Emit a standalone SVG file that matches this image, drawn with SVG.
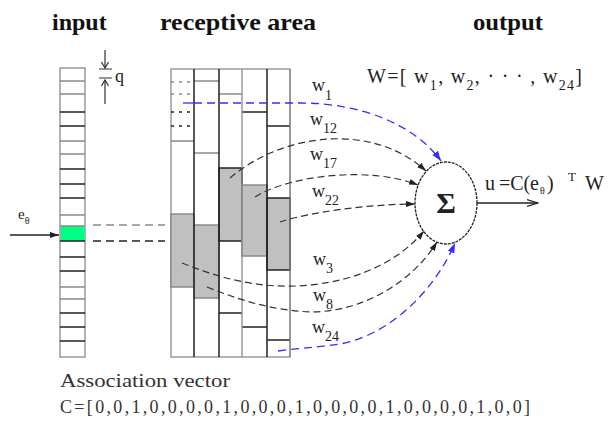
<svg xmlns="http://www.w3.org/2000/svg" width="608" height="426" viewBox="0 0 608 426" font-family="'Liberation Serif', 'DejaVu Serif', serif">
<style>
text{font-family:"Liberation Serif","DejaVu Serif",serif;fill:#222}
.title{font-size:24px;font-weight:bold;fill:#111}
.lab{font-size:18px}
.sub{font-size:14px}
.g{stroke:#8a8a8a;stroke-width:1.3;fill:none}
.k{stroke:#222;stroke-width:1.5;fill:none}
.cellw{fill:#fff;stroke:#8a8a8a;stroke-width:1.3}
.shade{fill:#c0c0c0;stroke:#222;stroke-width:1.5}
.dot{stroke-dasharray:3,5;stroke-width:1.5}
.conn{fill:none;stroke:#333;stroke-width:1.2;stroke-dasharray:7,4}
.blue{fill:none;stroke:#3a2cf0;stroke-width:1.3;stroke-dasharray:8,5}
</style>
<defs>
<marker id="ak" markerUnits="userSpaceOnUse" markerWidth="10" markerHeight="8" refX="9" refY="4" orient="auto"><path d="M0,1 L9,4 L0,7 z" fill="#222"/></marker>
<marker id="ab" markerUnits="userSpaceOnUse" markerWidth="11" markerHeight="8" refX="10" refY="4" orient="auto"><path d="M0,0.5 L10,4 L0,7.5 z" fill="#3a2cf0"/></marker>
<marker id="ao" markerUnits="userSpaceOnUse" markerWidth="12" markerHeight="10" refX="11" refY="5" orient="auto"><path d="M0,1.5 L11,5 L0,8.5" fill="none" stroke="#222" stroke-width="1.3"/></marker>
</defs>

<!-- titles -->
<text class="title" x="52" y="30">input</text>
<text class="title" x="160" y="30" textLength="156" lengthAdjust="spacingAndGlyphs">receptive area</text>
<text class="title" x="473" y="30" textLength="70" lengthAdjust="spacingAndGlyphs">output</text>

<!-- input column -->
<g id="input">
<rect class="cellw" x="60" y="68" width="25" height="289"/>
<rect x="60.5" y="226" width="24" height="15" fill="#00ff80"/>
<path class="g" d="M60,81H85M60,94H85M60,141H85M60,154H85M60,215H85M60,226H85M60,287H85M60,299H85"/>
<path class="k" d="M60,112H85M60,126H85M60,169H85M60,184H85M60,198H85M60,241H85M60,257H85M60,271H85M60,313H85M60,327H85M60,341H85"/>
</g>

<!-- q marker -->
<g id="q">
<path d="M105,50V68M99,69H112M99,78H112M105,80V104" stroke="#333" stroke-width="1.2" fill="none"/>
<path d="M101.5,62L105,68L108.5,62M101.5,86L105,80L108.5,86" stroke="#333" stroke-width="1.2" fill="none"/>
<text class="lab" x="115" y="82">q</text>
</g>

<!-- e_theta input arrow -->
<g id="etheta">
<text x="18" y="219" style="font-size:15px">e<tspan dy="5" style="font-size:10px">θ</tspan></text>
<path d="M10,235H59" stroke="#222" stroke-width="1.5" fill="none" marker-end="url(#ak)"/>
</g>

<!-- input to receptive dashed -->
<path d="M93,225H165" stroke="#8a8a8a" stroke-width="1.5" stroke-dasharray="8,5" fill="none"/>
<path d="M93,241H165" stroke="#222" stroke-width="1.5" stroke-dasharray="8,5" fill="none"/>

<!-- receptive area -->
<g id="receptive">
<rect class="cellw" x="171" y="69" width="119" height="288"/>
<rect class="shade" x="171" y="214" width="23" height="73" style="stroke:#8a8a8a"/>
<rect class="shade" x="194" y="225" width="25" height="73" style="stroke:#8a8a8a"/>
<rect class="shade" x="219" y="168" width="23" height="73"/>
<rect class="shade" x="242" y="185" width="25" height="71" style="stroke:#8a8a8a"/>
<rect class="shade" x="267" y="198" width="23" height="72"/>
<path class="g dot" d="M171,82H194M171,94H194"/>
<path class="k dot" d="M171,112H194M171,126H194"/>
<path class="g" d="M171,141H194M194,81H219M194,153H219M219,94H242"/>
<path class="k" d="M219,313H242M242,112H267M242,327H267M267,126H290M267,340H290"/>
<path class="k" d="M194,69V357M219,69V357M267,69V357"/>
<path class="g" d="M242,69V357M290,69V357"/>
</g>

<!-- connectors -->
<g id="connectors">
<path class="blue" d="M183,103H194" style="stroke-dasharray:none"/>
<path class="blue" d="M194,103H300C362,103 415,125 441,161" marker-end="url(#ab)"/>
<path class="conn" d="M230,178C280,135 370,120 426,171" marker-end="url(#ak)"/>
<path class="conn" d="M255,197C290,175 370,166 418,185" marker-end="url(#ak)"/>
<path class="conn" d="M280,222C310,212 370,204 415,204" marker-end="url(#ak)"/>
<path class="conn" d="M182,263C220,278 260,290 310,285C360,280 400,260 424,231" marker-end="url(#ak)"/>
<path class="conn" d="M207,287C240,300 270,310 310,312C360,312 410,285 437,242" marker-end="url(#ak)"/>
<path class="blue" d="M278,351C300,348 320,347 340,344C390,335 435,290 455,243" marker-end="url(#ab)"/>
<path d="M477,203H538" stroke="#222" stroke-width="1.3" fill="none" marker-end="url(#ao)"/>
</g>

<!-- weight labels -->
<g id="wlabels">
<text class="lab" x="312" y="91">w<tspan class="sub" dy="9">1</tspan></text>
<text class="lab" x="310" y="125">w<tspan class="sub" dy="8">12</tspan></text>
<text class="lab" x="310" y="160">w<tspan class="sub" dy="8">17</tspan></text>
<text class="lab" x="312" y="197">w<tspan class="sub" dy="8">22</tspan></text>
<text class="lab" x="313" y="265">w<tspan class="sub" dy="8">3</tspan></text>
<text class="lab" x="313" y="301">w<tspan class="sub" dy="8">8</tspan></text>
<text class="lab" x="312" y="333">w<tspan class="sub" dy="8">24</tspan></text>
</g>

<!-- sum node -->
<g id="sum">
<ellipse cx="446" cy="203" rx="31" ry="41" fill="#fff" stroke="#222" stroke-width="1.3" stroke-dasharray="3,1"/>
<text x="446" y="213" text-anchor="middle" style="font-size:30px;font-weight:bold">Σ</text>
</g>

<!-- W vector -->
<g id="wvec">
<text x="367" y="83" style="font-size:20px" textLength="215" lengthAdjust="spacing">W=[ w<tspan dy="7" class="sub">1</tspan><tspan dy="-7">, w</tspan><tspan dy="7" class="sub">2</tspan><tspan dy="-7">, · · · , w</tspan><tspan dy="7" class="sub">24</tspan><tspan dy="-7">]</tspan></text>
</g>

<!-- output label -->
<g id="ulabel">
<text y="190" style="font-size:20px"><tspan x="485">u</tspan><tspan x="499" textLength="40" lengthAdjust="spacing">=C(e</tspan><tspan x="540" dy="4" style="font-size:10px">θ</tspan><tspan x="547" dy="-4">)</tspan><tspan x="568" dy="-9" style="font-size:13px">T</tspan><tspan x="585" dy="9">W</tspan></text>
</g>

<!-- association vector -->
<g id="assoc">
<text x="60" y="387" style="font-size:18px;fill:#333" textLength="170" lengthAdjust="spacingAndGlyphs">Association vector</text>
<text x="60" y="413" style="font-size:18px;fill:#333" textLength="470" lengthAdjust="spacing">C=[0,0,1,0,0,0,0,1,0,0,0,1,0,0,0,0,1,0,0,0,0,1,0,0]</text>
</g>
</svg>
